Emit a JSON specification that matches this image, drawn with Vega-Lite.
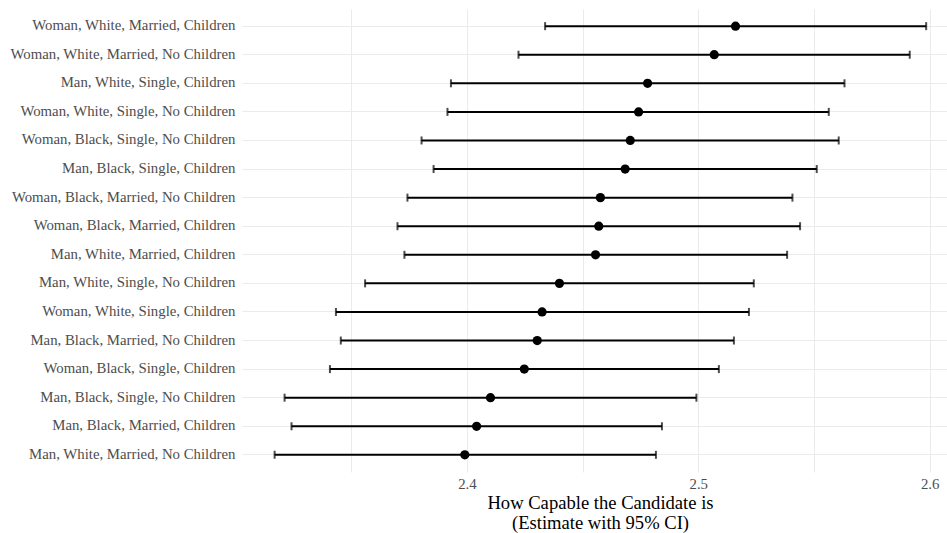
{
  "$schema": "https://vega.github.io/schema/vega-lite/v6.json",
  "autosize": {"type": "none"},
  "padding": {"left": 242, "top": 9, "right": 0, "bottom": 61},
  "width": 705,
  "height": 463,
  "background": "white",
  "config": {
    "view": {"stroke": null},
    "font": "Liberation Serif"
  },
  "data": {
    "values": [
      {"group": "Woman, White, Married, Children", "est": 2.5161, "lo": 2.4338, "hi": 2.5985},
      {"group": "Woman, White, Married, No Children", "est": 2.5069, "lo": 2.4223, "hi": 2.5914},
      {"group": "Man, White, Single, Children", "est": 2.4781, "lo": 2.3931, "hi": 2.5632},
      {"group": "Woman, White, Single, No Children", "est": 2.4742, "lo": 2.3916, "hi": 2.5564},
      {"group": "Woman, Black, Single, No Children", "est": 2.4706, "lo": 2.3804, "hi": 2.5607},
      {"group": "Man, Black, Single, Children", "est": 2.4684, "lo": 2.3856, "hi": 2.5512},
      {"group": "Woman, Black, Married, No Children", "est": 2.4577, "lo": 2.3743, "hi": 2.5407},
      {"group": "Woman, Black, Married, Children", "est": 2.457, "lo": 2.37, "hi": 2.544},
      {"group": "Man, White, Married, Children", "est": 2.4556, "lo": 2.373, "hi": 2.5384},
      {"group": "Man, White, Single, No Children", "est": 2.44, "lo": 2.356, "hi": 2.524},
      {"group": "Woman, White, Single, Children", "est": 2.4325, "lo": 2.3434, "hi": 2.5219},
      {"group": "Man, Black, Married, No Children", "est": 2.4304, "lo": 2.3455, "hi": 2.5154},
      {"group": "Woman, Black, Single, Children", "est": 2.4248, "lo": 2.3408, "hi": 2.5089},
      {"group": "Man, Black, Single, No Children", "est": 2.4102, "lo": 2.3212, "hi": 2.4992},
      {"group": "Man, Black, Married, Children", "est": 2.4042, "lo": 2.3242, "hi": 2.4843},
      {"group": "Man, White, Married, No Children", "est": 2.3991, "lo": 2.3169, "hi": 2.4817}
    ]
  },
  "encoding": {
    "y": {
      "field": "group",
      "type": "nominal",
      "sort": null,
      "scale": {"type": "band", "paddingInner": 0, "paddingOuter": 0.1},
      "axis": {
        "title": null,
        "domain": false,
        "ticks": false,
        "grid": true,
        "gridColor": "#ebebeb",
        "gridWidth": 1,
        "labelFont": "Liberation Serif",
        "labelFontSize": 14.8,
        "labelColor": "#4d4d4d",
        "labelPadding": 7,
        "labelLimit": 0
      }
    }
  },
  "layer": [
    {
      "mark": {"type": "rule", "color": "black", "strokeWidth": 2},
      "encoding": {
        "x": {
          "field": "lo",
          "type": "quantitative",
          "scale": {"domain": [2.3028, 2.6075], "nice": false, "zero": false},
          "axis": {
            "values": [2.35, 2.4, 2.45, 2.5, 2.55, 2.6],
            "labelExpr": "(round(datum.value*100) % 10 == 0) ? format(datum.value, '.1f') : ''",
            "domain": false,
            "ticks": false,
            "grid": true,
            "gridColor": "#ebebeb",
            "gridWidth": 1,
            "labelFont": "Liberation Serif",
            "labelFontSize": 14.8,
            "labelColor": "#4d4d4d",
            "labelPadding": 4,
            "labelFlush": false,
            "title": ["How Capable the Candidate is", "(Estimate with 95% CI)"],
            "titleFont": "Liberation Serif",
            "titleFontSize": 18.6,
            "titleFontWeight": "normal",
            "titleColor": "black",
            "titleLineHeight": 20,
            "titlePadding": 3,
            "titleX": 358
          }
        },
        "x2": {"field": "hi"}
      }
    },
    {
      "mark": {"type": "tick", "color": "black", "size": 8, "thickness": 2, "orient": "vertical"},
      "encoding": {"x": {"field": "lo", "type": "quantitative"}}
    },
    {
      "mark": {"type": "tick", "color": "black", "size": 8, "thickness": 2, "orient": "vertical"},
      "encoding": {"x": {"field": "hi", "type": "quantitative"}}
    },
    {
      "mark": {"type": "point", "filled": true, "color": "black", "size": 85, "opacity": 1},
      "encoding": {"x": {"field": "est", "type": "quantitative"}}
    }
  ]
}
